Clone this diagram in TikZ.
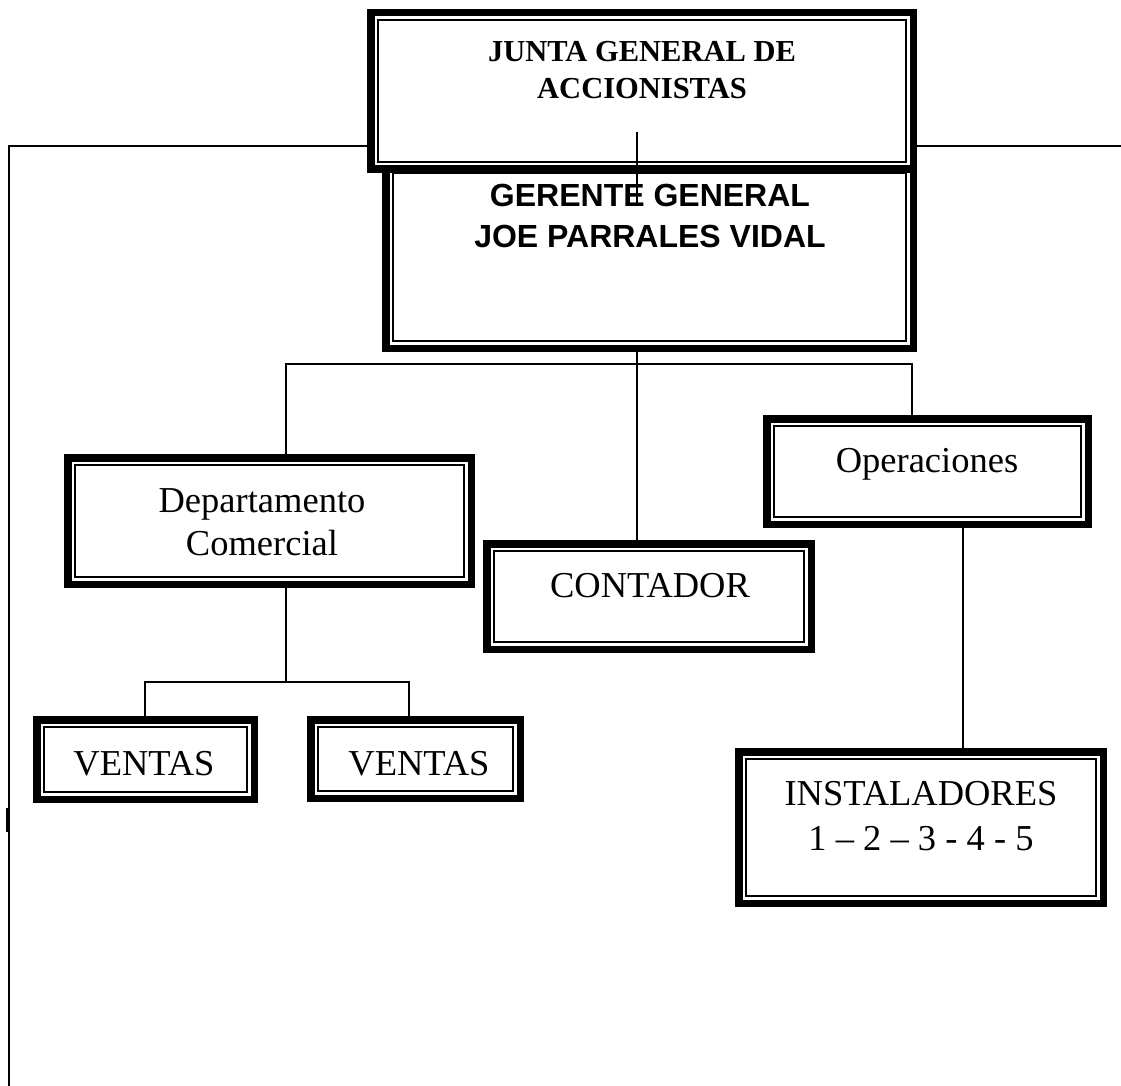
\documentclass[tikz,border=0pt]{standalone}
\usepackage{fontspec}
\setmainfont{Liberation Serif}
\newfontfamily\arialfont{Liberation Sans}
\pgfdeclarelayer{bg}
\pgfsetlayers{bg,main}
\tikzset{
    orgbox/.style={draw, line width=7.5pt, fill=white, inner sep=0pt,
        path picture={\draw[line width=1.8pt]
            ([shift={(7.25pt,-7.25pt)}]path picture bounding box.north west) rectangle
            ([shift={(-7.25pt,7.25pt)}]path picture bounding box.south east);}},
    boxtext/.style={font=\fontsize{36.5}{43}\selectfont, anchor=base, inner sep=0pt,
        align=center},
    conn/.style={line width=1.6pt}
}

\begin{document}
\begin{tikzpicture}[x=1pt, y=-1pt]
	\useasboundingbox (0,0) rectangle (1121,1086);

	\coordinate (lt) at (9,146);
	\coordinate (lb) at (9,1086);
	\coordinate (rt) at (1121,146);
	\coordinate (tick) at (7,808);
	\coordinate (jt) at (637,132);
	\coordinate (jb) at (637,205);
	\coordinate (busL) at (286,364);
	\coordinate (busR) at (912,364);
	\coordinate (busM) at (637,364);
	\coordinate (sub) at (286,682);
	\coordinate (subL) at (145,682);
	\coordinate (subR) at (409,682);
	\coordinate (opd) at (963,528);

	\node (gerente) [orgbox, minimum width=527.5, minimum height=182.5] at (649.5,257) {};
	\node (junta) [orgbox, minimum width=542.5, minimum height=156.5] at (642,91) {};
	\node (depto) [orgbox, minimum width=403.5, minimum height=126.5] at (269.5,521) {};
	\node (oper) [orgbox, minimum width=321.5, minimum height=105.5] at (927.5,471.5) {};
	\node (contador) [orgbox, minimum width=324.5, minimum height=105.5] at (649,596.5) {};
	\node (ventas1) [orgbox, minimum width=217.5, minimum height=79.5] at (145.5,759.5) {};
	\node (ventas2) [orgbox, minimum width=209.5, minimum height=78.5] at (415.5,759) {};
	\node (instal) [orgbox, minimum width=364.5, minimum height=151.5] at (921,827.5) {};

	% two-line texts sit on the baseline of their last line
	\node (juntatxt) [boxtext, font=\fontsize{30.5}{37}\selectfont\bfseries] at (642,99)
		{JUNTA GENERAL DE\\ACCIONISTAS};
	\node (gerentetxt) [boxtext, font=\fontsize{32}{40}\selectfont\arialfont\bfseries] at (650,247)
		{GERENTE GENERAL\\JOE PARRALES VIDAL};
	\node (deptotxt) [boxtext] at (262,555) {Departamento\\Comercial};
	\node (opertxt) [boxtext] at (927,472) {Operaciones};
	\node (contadortxt) [boxtext] at (650,597) {CONTADOR};
	\node (ventas1txt) [boxtext] at (144,775) {VENTAS};
	\node (ventas2txt) [boxtext] at (419,775) {VENTAS};
	\node (instaltxt) [boxtext, font=\fontsize{36.5}{45}\selectfont] at (921,850)
		{INSTALADORES\\1 – 2 – 3 - 4 - 5};

	\begin{pgfonlayer}{bg}
		\draw[conn] (lb) -- (lt) -- (junta.west |- lt);
		\draw[conn] (junta.east |- rt) -- (rt);
		\draw[conn] (gerente.south -| busM) -- (contador.north -| busM);
		\draw[conn] (depto.north -| busL) -- (busL) -- (busR) -- (oper.north -| busR);
		\draw[conn] (depto.south -| sub) -- (sub);
		\draw[conn] (ventas1.north -| subL) -- (subL) -- (subR) -- (ventas2.north -| subR);
		\draw[conn] (opd) -- (instal.north -| opd);
	\end{pgfonlayer}
	\draw[line width=2.5pt] (tick) -- ++(0,24);
	\draw[conn] (jt) -- (jb);
\end{tikzpicture}
\end{document}
